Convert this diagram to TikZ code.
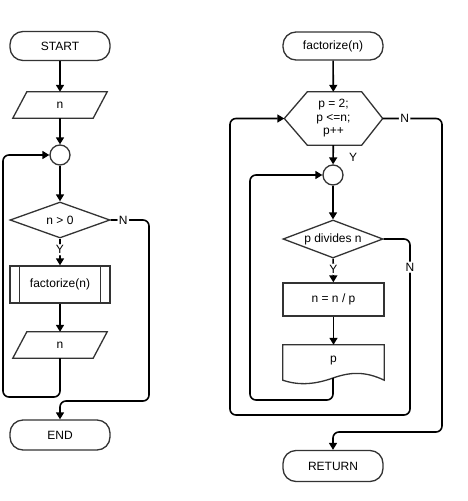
\documentclass[tikz,border=0pt]{standalone}
\usepackage{fontspec}
\setmainfont{Liberation Sans}
\usetikzlibrary{arrows.meta,shapes.geometric,calc}
\begin{document}
\begin{tikzpicture}[x=1pt,y=-1pt,
  shp/.style={draw=black!80, line width=1.3pt, fill=white, inner sep=0pt,
    font=\fontsize{12}{13.5}\selectfont, align=center},
  term/.style={shp, rounded corners=13pt, minimum width=100pt, minimum height=29pt},
  ghost/.style={inner sep=0pt, font=\fontsize{12}{13.5}\selectfont, align=center},
  dia/.style={shp, diamond, aspect=2.7},
  circ/.style={shp, circle, minimum size=20pt},
  flow/.style={line width=1.6pt, draw=black, rounded corners=6pt,
    -{Triangle[length=7pt,width=8pt]}},
  lbl/.style={fill=white, inner sep=1.5pt, font=\fontsize{12}{13.5}\selectfont}
]
\useasboundingbox (0,0) rectangle (467,501);
\fill[white] (0,0) rectangle (467,501);

% ---------- left flowchart ----------
\node[term] (start) at (60,46) {START};
\node[ghost, minimum width=94pt, minimum height=26pt] (in) at (60,105) {};
\draw[shp] (in.south west) -- ($(in.south east)+(-14,0)$) -- (in.north east)
  -- ($(in.north west)+(14,0)$) -- cycle;
\node[ghost] at (in) {n};
\node[circ] (c1) at (60,155) {};
\node[dia, minimum width=100pt, minimum height=36pt] (d1) at (60,220) {n > 0};
\node[shp, minimum width=100pt, minimum height=37pt] (sub) at (60,284.5) {factorize(n)};
\draw[draw=black!80, line width=1.3pt] ($(sub.north west)+(10,0)$) -- ($(sub.south west)+(10,0)$);
\draw[draw=black!80, line width=1.3pt] ($(sub.north east)+(-10,0)$) -- ($(sub.south east)+(-10,0)$);
\node[ghost, minimum width=94pt, minimum height=26pt] (out) at (60,345) {};
\draw[shp] (out.south west) -- ($(out.south east)+(-14,0)$) -- (out.north east)
  -- ($(out.north west)+(14,0)$) -- cycle;
\node[ghost] at (out) {n};
\node[term, minimum height=30pt] (end) at (60,435) {END};

\draw[flow] (start) -- (in);
\draw[flow] (in) -- (c1);
\draw[flow] (c1) -- (d1);
\draw[flow] (d1) -- node[lbl, pos=0.42]{Y} (sub);
\draw[flow] (sub) -- (out);
\draw[flow] (out.south) -- (60,397) -- (3,397) -- (3,155) -- (c1.west);
\draw[flow] (d1.east) -- node[lbl, pos=0.33]{N} (149,220) -- (149,401) -- (60,401) -- (end.north);

% ---------- right flowchart ----------
\node[term, minimum height=28pt] (func) at (333,46) {factorize(n)};
\node[ghost, minimum width=98pt, minimum height=53pt] (hex) at (333.5,118.5) {};
\draw[shp] (hex.west) -- ($(hex.north west)+(23,0)$) -- ($(hex.north east)+(-21,0)$)
  -- (hex.east) -- ($(hex.south east)+(-21,0)$) -- ($(hex.south west)+(23,0)$) -- cycle;
\node[ghost] at (hex) {p = 2;\\p <=n;\\p++};
\node[circ] (c2) at (333,175) {};
\node[dia, minimum width=100pt, minimum height=38pt] (d2) at (333,239) {p divides n};
\node[shp, minimum width=101pt, minimum height=33pt] (box) at (333.5,299.5) {n = n / p};
\node[ghost, minimum width=101pt, minimum height=35pt] (doc) at (333.5,362.5) {};
\draw[shp] (doc.south west) -- (doc.north west) -- (doc.north east) -- (doc.south east)
  .. controls (365,371) and (350,372) .. (333,378)
  .. controls (316,384) and (300,386) .. (doc.south west) -- cycle;
\node[ghost] at ($(doc)+(0,-2)$) {p};
\coordinate (docb) at (333,378);
\node[term, minimum height=31pt] (ret) at (333,466) {RETURN};

\draw[flow] (func) -- (hex);
\draw[flow] (hex) -- (c2);
\node[lbl, fill=none] (ylab) at (353,157) {Y};
\draw[flow] (c2) -- (d2);
\draw[flow] (d2) -- node[lbl, pos=0.45]{Y} (box);
\draw[flow] (box) -- (doc);
\draw[flow] (docb) -- (333,400) -- (250,400) -- (250,175) -- (c2.west);
\draw[flow] (d2.east) -- (410,239) -- node[lbl, pos=0.16]{N} (410,415) -- (230,415)
  -- (230,118.5) -- (hex.west);
\draw[flow] (hex.east) -- node[lbl, pos=0.37]{N} (442,118.5) -- (442,432) -- (333,432) -- (ret.north);
\end{tikzpicture}
\end{document}
